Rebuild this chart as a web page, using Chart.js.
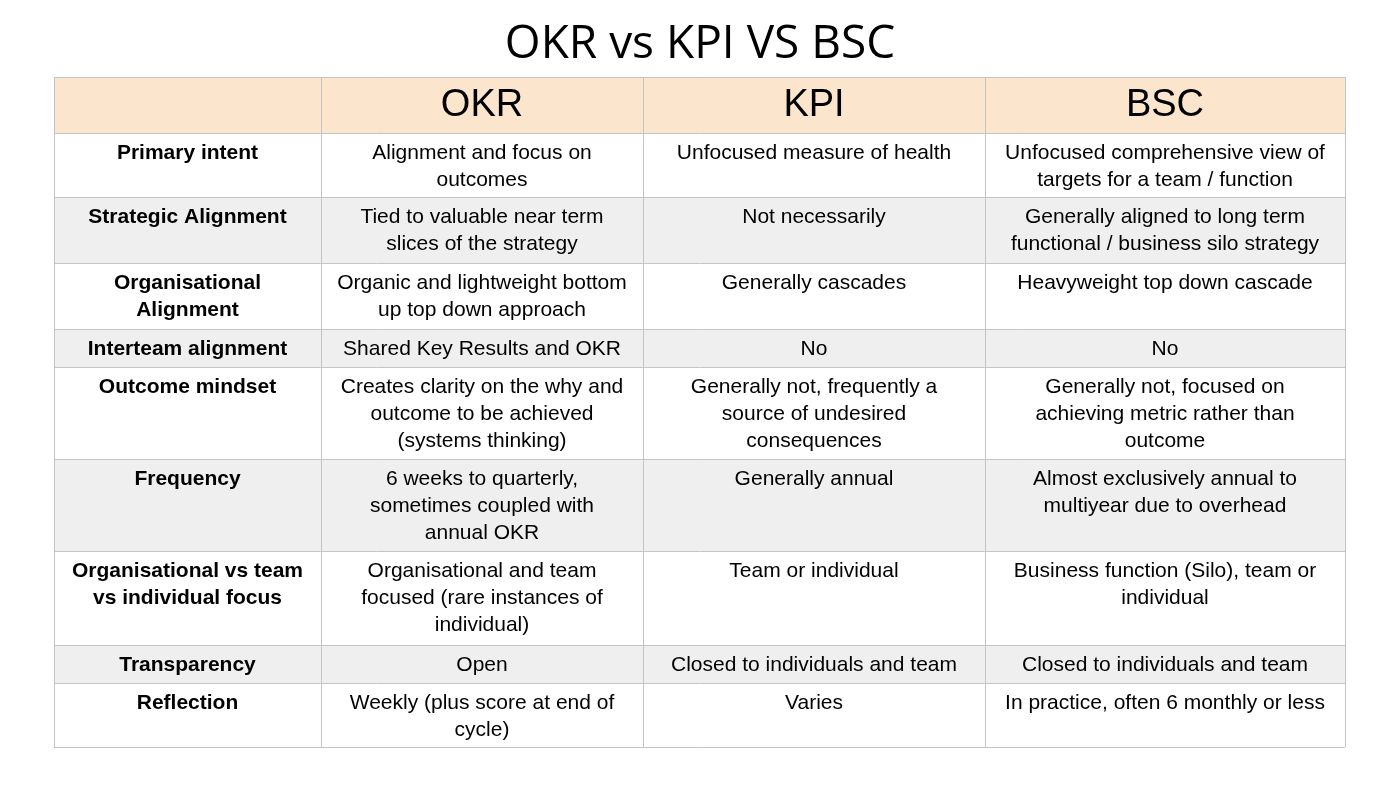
<!DOCTYPE html>
<html><head><meta charset="utf-8">
<script src="https://cdn.jsdelivr.net/npm/chart.js@4"></script>
<style>html,body{margin:0;padding:0;background:#fff}canvas{display:block}</style>
</head><body><canvas id="c" width="1400" height="787"></canvas>
<script>
const title = "OKR vs KPI VS BSC";
const headers = ["", "OKR", "KPI", "BSC"];
const rowLabels = ["Primary intent","Strategic Alignment","Organisational\nAlignment","Interteam alignment","Outcome mindset","Frequency","Organisational vs team\nvs individual focus","Transparency","Reflection"];
const okr = ["Alignment and focus on\noutcomes","Tied to valuable near term\nslices of the strategy","Organic and lightweight bottom\nup top down approach","Shared Key Results and OKR","Creates clarity on the why and\noutcome to be achieved\n(systems thinking)","6 weeks to quarterly,\nsometimes coupled with\nannual OKR","Organisational and team\nfocused (rare instances of\nindividual)","Open","Weekly (plus score at end of\ncycle)"];
const kpi = ["Unfocused measure of health","Not necessarily","Generally cascades","No","Generally not, frequently a\nsource of undesired\nconsequences","Generally annual","Team or individual","Closed to individuals and team","Varies"];
const bsc = ["Unfocused comprehensive view of\ntargets for a team / function","Generally aligned to long term\nfunctional / business silo strategy","Heavyweight top down cascade","No","Generally not, focused on\nachieving metric rather than\noutcome","Almost exclusively annual to\nmultiyear due to overhead","Business function (Silo), team or\nindividual","Closed to individuals and team","In practice, often 6 monthly or less"];

const colEdges = [54, 321, 643, 985, 1345];
const rowEdges = [77, 133, 197, 263, 329, 367, 459, 551, 645, 683, 747];

const tablePlugin = {
  id: 'table',
  afterDraw(chart) {
    const ctx = chart.ctx, xs = chart.scales.x, ys = chart.scales.y;
    const X = v => xs.getPixelForValue(v), Y = v => ys.getPixelForValue(v);
    ctx.save();
    ctx.fillStyle = '#000'; ctx.textAlign = 'center'; ctx.textBaseline = 'middle';
    ctx.font = '46px "Open Sans"';
    ctx.fillText(title, X(700), Y(45));
    const cols = [rowLabels, okr, kpi, bsc];
    for (let r = 0; r < rowEdges.length - 1; r++) {
      const y0 = Y(rowEdges[r]), y1 = Y(rowEdges[r+1]);
      ctx.fillStyle = r === 0 ? '#fce5cd' : (r % 2 === 0 ? '#efefef' : '#ffffff');
      ctx.fillRect(X(colEdges[0]), y0, X(colEdges[4]) - X(colEdges[0]), y1 - y0);
    }
    ctx.strokeStyle = '#c4c4c4'; ctx.lineWidth = 1;
    rowEdges.forEach(v => { ctx.beginPath(); ctx.moveTo(X(colEdges[0]), Math.round(Y(v))+0.5); ctx.lineTo(X(colEdges[4]), Math.round(Y(v))+0.5); ctx.stroke(); });
    colEdges.forEach(v => { ctx.beginPath(); ctx.moveTo(Math.round(X(v))+0.5, Y(rowEdges[0])); ctx.lineTo(Math.round(X(v))+0.5, Y(rowEdges[rowEdges.length-1])); ctx.stroke(); });
    ctx.fillStyle = '#000';
    ctx.font = '38px "Liberation Sans", Arial';
    for (let c = 1; c < 4; c++) ctx.fillText(headers[c], X((colEdges[c]+colEdges[c+1])/2), Y(106));
    for (let c = 0; c < 4; c++) {
      ctx.font = (c === 0 ? 'bold ' : '') + '21px "Liberation Sans", Arial';
      const cx = X((colEdges[c]+colEdges[c+1])/2);
      cols[c].forEach((txt, i) => {
        const top = rowEdges[i+1];
        txt.split('\n').forEach((ln, k) => ctx.fillText(ln, cx, Y(top + 20 + k*27)));
      });
    }
    ctx.restore();
  }
};

new Chart(document.getElementById('c'), {
  type: 'scatter',
  data: { datasets: [{ data: [] }] },
  options: {
    responsive: false, animation: false,
    layout: { padding: 0 },
    plugins: { legend: { display: false }, tooltip: { enabled: false } },
    scales: {
      x: { type: 'linear', min: 0, max: 1400, display: false },
      y: { type: 'linear', min: 0, max: 787, reverse: true, display: false }
    }
  },
  plugins: [tablePlugin]
});
</script></body></html>
